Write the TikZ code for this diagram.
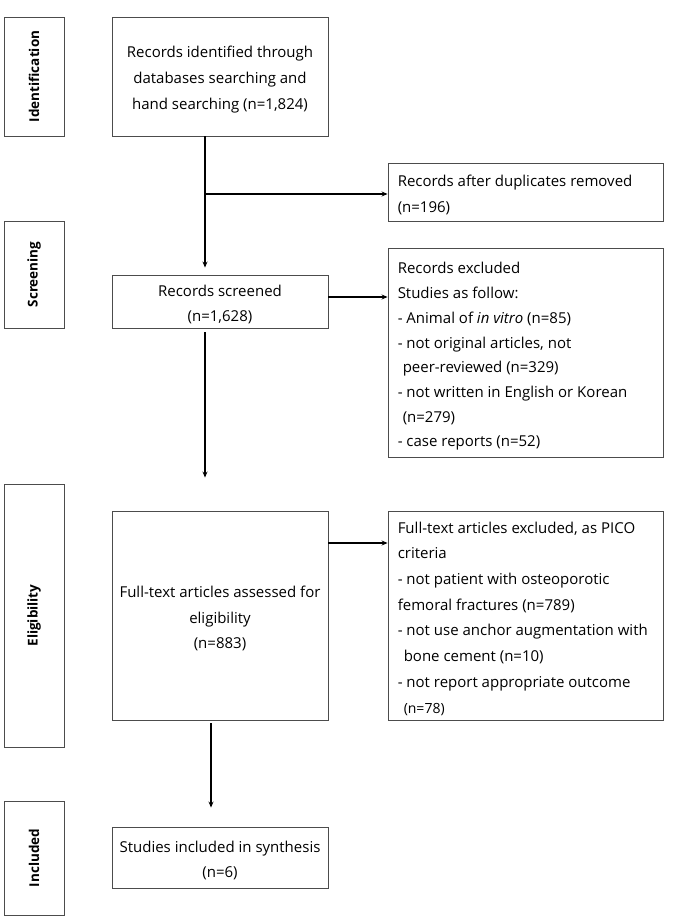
\documentclass[tikz,border=0pt]{standalone}
\usepackage{fontspec}
\setmainfont{Open Sans}
\usetikzlibrary{arrows.meta,calc}
\begin{document}
\begin{tikzpicture}[x=1pt,y=-1pt,
  box/.style={draw=black!70,line width=0.9pt,inner sep=0pt},
  ctxt/.style={align=center,inner sep=0pt,font=\fontsize{15}{25.7}\selectfont},
  side/.style={draw=black!70,line width=0.9pt,minimum width=60pt,inner sep=0pt,font=\fontsize{13.5}{15}\selectfont\bfseries},
  arr/.style={draw=black,line width=1.1pt,-{Stealth[length=6pt,width=5pt]}},
  ln/.style={draw=black,line width=1.1pt},
  txt/.style={anchor=west,align=left,inner sep=0pt,font=\fontsize{15}{#1}\selectfont}]
\useasboundingbox (0,0) rectangle (685,923);
% side labels
\node[side,minimum height=119pt] (idlab) at (34,76.5) {\rotatebox{90}{Identification}};
\node[side,minimum height=107pt] (scrlab) at (34,274.5) {\rotatebox{90}{Screening}};
\node[side,minimum height=263pt] (elilab) at (34,615.5) {\rotatebox{90}{Eligibility}};
\node[side,minimum height=114pt] (inclab) at (34,858) {\rotatebox{90}{Included}};
% main boxes
\node[box,minimum width=216pt,minimum height=119pt] (b1) at (220,76.5) {};
\node[ctxt] (b1t) at ([yshift=-3pt]b1.center)
  {Records identified through\\databases searching and\\hand searching (n=1,824)};
\node[box,minimum width=216pt,minimum height=53pt] (scr) at (220,301.5) {};
\node[ctxt] (scrt) at ([yshift=-3pt]scr.center) {Records screened\\(n=1,628)};
\node[box,minimum width=216pt,minimum height=209pt] (full) at (220,615.5) {};
\node[ctxt] (fullt) at ([yshift=-3pt]full.center)
  {Full-text articles assessed for\\eligibility\\(n=883)};
\node[box,minimum width=216pt,minimum height=61pt] (inc) at (220,857.5) {};
\node[ctxt] (inct) at ([yshift=-3pt]inc.center) {Studies included in synthesis\\(n=6)};
% right boxes
\node[box,minimum width=275pt,minimum height=58pt] (dup) at (525.5,192) {};
\node[txt=25.7] (duptxt) at ([xshift=10pt,yshift=-3pt]dup.west)
  {Records after duplicates removed\\(n=196)};
\node[box,minimum width=275pt,minimum height=209pt] (exc1) at (525.5,352.5) {};
\node[txt=24.7] (exc1txt) at ([xshift=10pt,yshift=-4pt]exc1.west)
  {Records excluded\\Studies as follow:\\- Animal of \textit{in vitro} (n=85)\\- not original articles, not\\\hspace*{5pt}peer-reviewed (n=329)\\- not written in English or Korean\\\hspace*{5pt}(n=279)\\- case reports (n=52)};
\node[box,minimum width=275pt,minimum height=209pt] (exc2) at (525.5,615.5) {};
\node[txt=25.7] (exc2txt) at ([xshift=10pt,yshift=-3pt]exc2.west)
  {Full-text articles excluded, as PICO\\criteria\\- not patient with osteoporotic\\femoral fractures (n=789)\\- not use anchor augmentation with\\\hspace*{6pt}bone cement (n=10)\\- not report appropriate outcome\\\hspace*{6pt}{\fontsize{14}{25.7}\selectfont(n=78)}};
% connectors
\coordinate (j1) at (205,194);
\draw[ln] (b1.south -| j1) -- (j1);
\draw[arr] (j1) -- (dup.west |- j1);
\draw[arr,shorten >=7pt] (j1) -- (scr.north -| j1);
\coordinate (j2) at (328,297);
\draw[arr] (scr.east |- j2) -- (exc1.west |- j2);
\draw[arr,shorten <=4pt,shorten >=33pt] (scr.south -| j1) -- (full.north -| j1);
\coordinate (j3) at (328,543);
\draw[arr] (full.east |- j3) -- (exc2.west |- j3);
\coordinate (j4) at (211,720);
\draw[arr,shorten <=3pt,shorten >=19pt] (full.south -| j4) -- (inc.north -| j4);
\end{tikzpicture}
\end{document}
